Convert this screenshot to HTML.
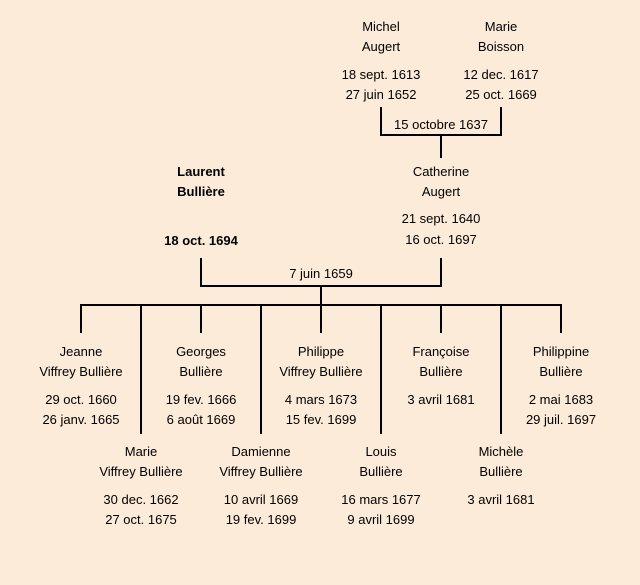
<!DOCTYPE html>
<html><head><meta charset="utf-8"><style>
html,body{margin:0;padding:0}
body{width:640px;height:585px;background:#fdebd9;position:relative;overflow:hidden;font-family:"Liberation Sans",sans-serif;font-size:13px;color:#000}
.t{position:absolute;width:160px;margin-left:-80px;text-align:center;line-height:16px;white-space:nowrap}
.b{font-weight:bold}
.l{position:absolute;background:#000}
</style></head><body>
<!-- lines -->
<div class="l" style="left:380px;top:107px;width:2px;height:29px"></div>
<div class="l" style="left:500px;top:107px;width:2px;height:29px"></div>
<div class="l" style="left:380px;top:134px;width:122px;height:2px"></div>
<div class="l" style="left:440px;top:134px;width:2px;height:24px"></div>

<div class="l" style="left:200px;top:258px;width:2px;height:29px"></div>
<div class="l" style="left:440px;top:258px;width:2px;height:29px"></div>
<div class="l" style="left:200px;top:285px;width:242px;height:2px"></div>
<div class="l" style="left:320px;top:285px;width:2px;height:21px"></div>
<div class="l" style="left:80px;top:304px;width:482px;height:2px"></div>

<div class="l" style="left:80px;top:304px;width:2px;height:29px"></div>
<div class="l" style="left:200px;top:304px;width:2px;height:29px"></div>
<div class="l" style="left:320px;top:304px;width:2px;height:29px"></div>
<div class="l" style="left:440px;top:304px;width:2px;height:29px"></div>
<div class="l" style="left:560px;top:304px;width:2px;height:29px"></div>
<div class="l" style="left:140px;top:304px;width:2px;height:130px"></div>
<div class="l" style="left:260px;top:304px;width:2px;height:130px"></div>
<div class="l" style="left:380px;top:304px;width:2px;height:130px"></div>
<div class="l" style="left:500px;top:304px;width:2px;height:130px"></div>

<!-- text -->
<div class="t" style="left:381px;top:19px">Michel</div>
<div class="t" style="left:381px;top:39px">Augert</div>
<div class="t" style="left:381px;top:67px">18 sept. 1613</div>
<div class="t" style="left:381px;top:87px">27 juin 1652</div>
<div class="t" style="left:501px;top:19px">Marie</div>
<div class="t" style="left:501px;top:39px">Boisson</div>
<div class="t" style="left:501px;top:67px">12 dec. 1617</div>
<div class="t" style="left:501px;top:87px">25 oct. 1669</div>
<div class="t" style="left:441px;top:117px">15 octobre 1637</div>

<div class="t b" style="left:201px;top:164px">Laurent</div>
<div class="t b" style="left:201px;top:184px">Bullière</div>
<div class="t b" style="left:201px;top:233px">18 oct. 1694</div>
<div class="t" style="left:441px;top:164px">Catherine</div>
<div class="t" style="left:441px;top:184px">Augert</div>
<div class="t" style="left:441px;top:211px">21 sept. 1640</div>
<div class="t" style="left:441px;top:232px">16 oct. 1697</div>
<div class="t" style="left:321px;top:266px">7 juin 1659</div>

<div class="t" style="left:81px;top:344px">Jeanne</div>
<div class="t" style="left:81px;top:364px">Viffrey Bullière</div>
<div class="t" style="left:81px;top:392px">29 oct. 1660</div>
<div class="t" style="left:81px;top:412px">26 janv. 1665</div>
<div class="t" style="left:201px;top:344px">Georges</div>
<div class="t" style="left:201px;top:364px">Bullière</div>
<div class="t" style="left:201px;top:392px">19 fev. 1666</div>
<div class="t" style="left:201px;top:412px">6 août 1669</div>
<div class="t" style="left:321px;top:344px">Philippe</div>
<div class="t" style="left:321px;top:364px">Viffrey Bullière</div>
<div class="t" style="left:321px;top:392px">4 mars 1673</div>
<div class="t" style="left:321px;top:412px">15 fev. 1699</div>
<div class="t" style="left:441px;top:344px">Françoise</div>
<div class="t" style="left:441px;top:364px">Bullière</div>
<div class="t" style="left:441px;top:392px">3 avril 1681</div>
<div class="t" style="left:561px;top:344px">Philippine</div>
<div class="t" style="left:561px;top:364px">Bullière</div>
<div class="t" style="left:561px;top:392px">2 mai 1683</div>
<div class="t" style="left:561px;top:412px">29 juil. 1697</div>

<div class="t" style="left:141px;top:444px">Marie</div>
<div class="t" style="left:141px;top:464px">Viffrey Bullière</div>
<div class="t" style="left:141px;top:492px">30 dec. 1662</div>
<div class="t" style="left:141px;top:512px">27 oct. 1675</div>
<div class="t" style="left:261px;top:444px">Damienne</div>
<div class="t" style="left:261px;top:464px">Viffrey Bullière</div>
<div class="t" style="left:261px;top:492px">10 avril 1669</div>
<div class="t" style="left:261px;top:512px">19 fev. 1699</div>
<div class="t" style="left:381px;top:444px">Louis</div>
<div class="t" style="left:381px;top:464px">Bullière</div>
<div class="t" style="left:381px;top:492px">16 mars 1677</div>
<div class="t" style="left:381px;top:512px">9 avril 1699</div>
<div class="t" style="left:501px;top:444px">Michèle</div>
<div class="t" style="left:501px;top:464px">Bullière</div>
<div class="t" style="left:501px;top:492px">3 avril 1681</div>
</body></html>
